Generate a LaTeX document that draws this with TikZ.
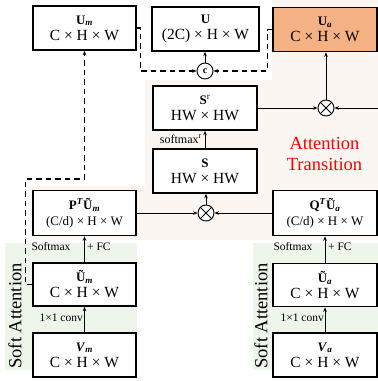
\documentclass[tikz,border=0pt]{standalone}
\usepackage{fontspec}
\setmainfont{Liberation Serif}
\usetikzlibrary{arrows.meta}

\definecolor{bgbeige}{HTML}{FCF6F2}
\definecolor{bggreen}{HTML}{EEF6EB}
\definecolor{boxorange}{HTML}{F4B183}
\newcommand{\boxttl}{\fontsize{13}{13}\selectfont\bfseries}
\newcommand{\boxdim}{\fontsize{13}{13}\selectfont}

\begin{document}
\begin{tikzpicture}[x=1pt, y=-1pt,
    >={Stealth[length=4.5pt,width=3.5pt]},
    blk/.style={draw, line width=1.5pt, fill=white, minimum width=103pt, minimum height=44pt,
        align=center, inner sep=0pt, font=\fontsize{15.5}{16}\selectfont},
    op/.style={draw, circle, line width=0.9pt, minimum size=16pt, inner sep=0pt, fill=white},
    flow/.style={line width=1pt, ->},
    skip/.style={line width=1.4pt, dash pattern=on 5.5pt off 4pt, ->},
    lbl/.style={font=\fontsize{11.5}{12}\selectfont, inner sep=1pt}]
    \useasboundingbox (0,0) rectangle (378,381);

    % Background regions
    \fill[bgbeige] (30,186) -- (145,186) -- (145,80) -- (272,80) -- (272,0) -- (378,0) -- (378,240) -- (30,240) -- cycle;
    \fill[bggreen] (5,243) rectangle (137,370);
    \fill[bggreen] (253,243) rectangle (378,370);

    % Top row
    \node[blk] (Um) at (84.5,28) {{\boxttl U\textsubscript{\textit{m}}}\\C × H × W};
    \node[blk, minimum width=107pt] (U) at (205.5,29) {{\boxttl U}\\(2C) × H × W};
    \node[blk, fill=boxorange, minimum width=104pt] (Ua) at (325,29.5) {{\boxttl U\textsubscript{\textit{a}}}\\C × H × W};
    \node[op] (cat) at (205,71) {\fontsize{10}{10}\selectfont\bfseries c};

    % Attention transition
    \node[blk, minimum width=104pt] (Sr) at (205,108) {{\boxttl S\textsuperscript{\mdseries r}}\\HW × HW};
    \node[blk, minimum width=104pt] (S) at (205,171) {{\boxttl S}\\HW × HW};
    \node[op] (mulA) at (326,108) {};
    \node[op] (mulB) at (206,213) {};
    \draw[line width=0.9pt] (mulA.north west) -- (mulA.south east) (mulA.north east) -- (mulA.south west);
    \draw[line width=0.9pt] (mulB.north west) -- (mulB.south east) (mulB.north east) -- (mulB.south west);
    \node[blk, minimum height=45pt] (PUm) at (84.5,213) {{\boxttl P\textsuperscript{\textit{T}}Ũ\textsubscript{\textit{m}}}\\{\boxdim (C/d) × H × W}};
    \node[blk, minimum width=104pt, minimum height=45pt] (QUa) at (325,213) {{\boxttl Q\textsuperscript{\textit{T}}Ũ\textsubscript{\textit{a}}}\\{\boxdim (C/d) × H × W}};
    \node[red, align=center, font=\fontsize{18.5}{21}\selectfont] (att) at (324.5,153.5) {Attention\\Transition};

    % Soft attention branches
    \node[blk, minimum height=43pt] (Utm) at (84.5,284.5) {{\boxttl Ũ\textsubscript{\textit{m}}}\\C × H × W};
    \node[blk] (Vm) at (84.5,355) {{\boxttl\textit{V}\textsubscript{\textit{m}}}\\C × H × W};
    \node[blk, minimum width=104pt, minimum height=43pt] (Uta) at (325,285) {{\boxttl Ũ\textsubscript{\textit{a}}}\\C × H × W};
    \node[blk, minimum width=104pt] (Va) at (325,355) {{\boxttl\textit{V}\textsubscript{\textit{a}}}\\C × H × W};
    \node[rotate=90, font=\fontsize{18.5}{19}\selectfont] (saL) at (15,316) {Soft Attention};
    \node[rotate=90, font=\fontsize{18.5}{19}\selectfont] (saR) at (261,316) {Soft Attention};

    % Arrows
    \draw[flow] (Vm) -- (Utm);
    \draw[flow] (Utm) -- (PUm);
    \draw[flow] (Va) -- (Uta);
    \draw[flow] (Uta) -- (QUa);
    \draw[flow] (PUm.east) -- (mulB);
    \draw[flow] (QUa.west) -- (mulB);
    \draw[flow] (mulB) -- (mulB |- S.south);
    \draw[flow] (S) -- (Sr);
    \draw[flow] (Sr.east) -- (mulA);
    \coordinate (rin) at (378,108);
    \draw[flow] (rin) -- (mulA);
    \draw[flow] (mulA) -- (mulA |- Ua.south);
    \draw[flow] (cat) -- (cat |- U.south);

    % Dashed skips
    \draw[skip] (Um.east) -- ++(4,0) |- (cat);
    \draw[skip] (Ua.west) -- ++(-5,0) |- (cat);
    \coordinate (mbend) at (84.5,179);
    \draw[skip] (Utm.west) -- ++(-7,0) |- (mbend) -- (Um);

    % Labels
    \node[lbl, anchor=east, font=\fontsize{12}{12}\selectfont] (smr) at (203,139) {softmax\textsuperscript{r}};
    \node[lbl] (smL) at (51,247) {Softmax};
    \node[lbl, anchor=west] (fcL) at (86,247) {+ FC};
    \node[lbl] (smR) at (293,247) {Softmax};
    \node[lbl, anchor=west] (fcR) at (327,247) {+ FC};
    \node[lbl, anchor=east] (cvL) at (84,318) {1×1 conv};
    \node[lbl, anchor=east] (cvR) at (325,318) {1×1 conv};
\end{tikzpicture}
\end{document}
